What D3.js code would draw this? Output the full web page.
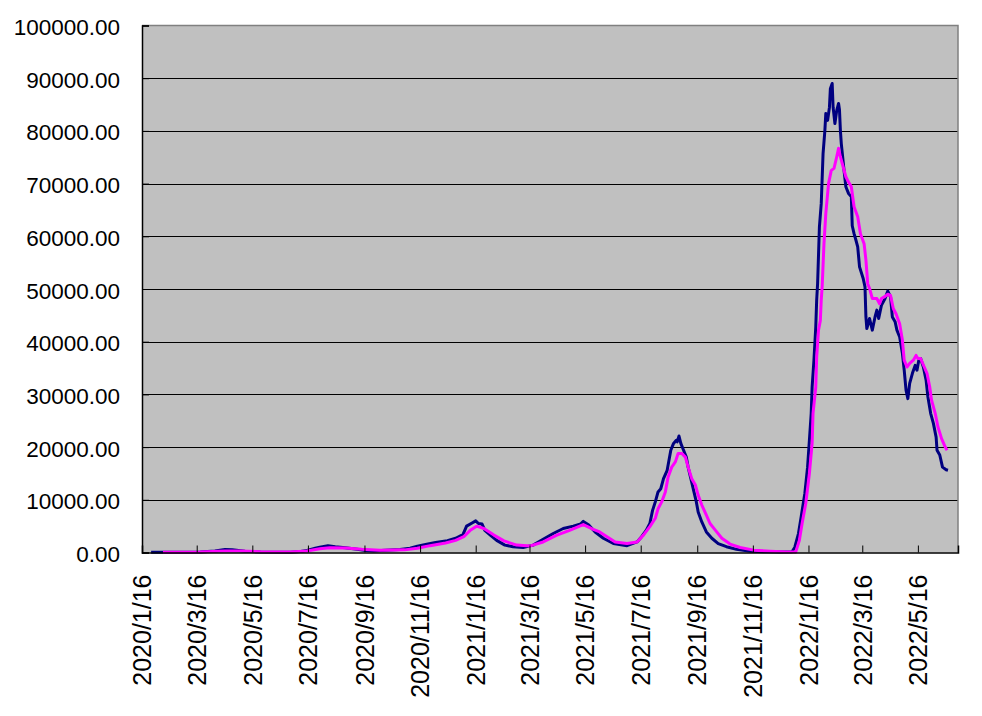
<!DOCTYPE html>
<html>
<head>
<meta charset="utf-8">
<script src="https://cdn.jsdelivr.net/npm/d3@7"></script>
<style>
  html, body { margin: 0; padding: 0; background: #fff; }
  svg { display: block; }
  text { font-family: "Liberation Sans", Arial, sans-serif; fill: #000; }
</style>
</head>
<body>
<div id="chart"></div>
<script>
// x axis labels (every 2 months) and y axis ticks
const tickLabels = ["2020/1/16", "2020/3/16", "2020/5/16", "2020/7/16", "2020/9/16", "2020/11/16",
  "2021/1/16", "2021/3/16", "2021/5/16", "2021/7/16", "2021/9/16", "2021/11/16",
  "2022/1/16", "2022/3/16", "2022/5/16"];
const yTicks = [0, 10000, 20000, 30000, 40000, 50000, 60000, 70000, 80000, 90000, 100000];
const axisStart = "2020-01-16";
const axisEnd = "2022-06-29";

// navy series
const blueDates = [
  "2020-01-26", "2020-03-20", "2020-04-05", "2020-04-16", "2020-04-24", "2020-05-08", "2020-05-25",
  "2020-06-27", "2020-07-08", "2020-07-15", "2020-07-24", "2020-07-29", "2020-08-07", "2020-08-15",
  "2020-08-26", "2020-09-08", "2020-09-17", "2020-09-26", "2020-10-09", "2020-10-25", "2020-11-05",
  "2020-11-13", "2020-11-22", "2020-12-03", "2020-12-16", "2020-12-25", "2021-01-02", "2021-01-06",
  "2021-01-12", "2021-01-16", "2021-01-19", "2021-01-23", "2021-01-26", "2021-02-01", "2021-02-08",
  "2021-02-17", "2021-02-26", "2021-03-09", "2021-03-20", "2021-03-31", "2021-04-11", "2021-04-22",
  "2021-05-03", "2021-05-11", "2021-05-14", "2021-05-20", "2021-05-27", "2021-06-05", "2021-06-16",
  "2021-07-01", "2021-07-12", "2021-07-17", "2021-07-22", "2021-07-26", "2021-07-29", "2021-08-01",
  "2021-08-04", "2021-08-07", "2021-08-10", "2021-08-14", "2021-08-16", "2021-08-18", "2021-08-21",
  "2021-08-24", "2021-08-25", "2021-08-27", "2021-08-29", "2021-09-01", "2021-09-04", "2021-09-06",
  "2021-09-09", "2021-09-12", "2021-09-15", "2021-09-17", "2021-09-21", "2021-09-26", "2021-10-02",
  "2021-10-09", "2021-10-18", "2021-10-29", "2021-11-13", "2021-12-01", "2021-12-16", "2021-12-29",
  "2022-01-01", "2022-01-05", "2022-01-08", "2022-01-12", "2022-01-15", "2022-01-17", "2022-01-19",
  "2022-01-20", "2022-01-22", "2022-01-24", "2022-01-25", "2022-01-26", "2022-01-28", "2022-01-30",
  "2022-02-01", "2022-02-03", "2022-02-04", "2022-02-06", "2022-02-08", "2022-02-09", "2022-02-11",
  "2022-02-12", "2022-02-14", "2022-02-16", "2022-02-18", "2022-02-19", "2022-02-20", "2022-02-21",
  "2022-02-24", "2022-02-26", "2022-03-01", "2022-03-04", "2022-03-05", "2022-03-07", "2022-03-09",
  "2022-03-11", "2022-03-13", "2022-03-17", "2022-03-19", "2022-03-20", "2022-03-21", "2022-03-24",
  "2022-03-27", "2022-03-30", "2022-04-01", "2022-04-03", "2022-04-06", "2022-04-10", "2022-04-13",
  "2022-04-16", "2022-04-18", "2022-04-21", "2022-04-23", "2022-04-26", "2022-04-29", "2022-05-01",
  "2022-05-03", "2022-05-05", "2022-05-07", "2022-05-10", "2022-05-13", "2022-05-15", "2022-05-17",
  "2022-05-19", "2022-05-22", "2022-05-25", "2022-05-27", "2022-05-30", "2022-06-02", "2022-06-05",
  "2022-06-06", "2022-06-09", "2022-06-12", "2022-06-16", "2022-06-18"
];
const blueValues = [
  50, 100, 300, 550, 500, 250, 100,
  50, 200, 400, 800, 1000, 1300, 1100,
  900, 600, 400, 300, 450, 550, 800,
  1200, 1500, 1900, 2250, 2700, 3400, 5000,
  5600, 6000, 5500, 5400, 4200, 3300, 2300,
  1400, 1100, 950, 1400, 2500, 3600, 4550,
  5000, 5400, 5900, 5200, 3900, 2700, 1700,
  1300, 2000, 3000, 4200, 5500, 8000, 9600,
  11500, 12100, 14000, 15600, 17500, 19400, 20700,
  21300, 21000, 22100, 20700, 19400, 18100, 16200,
  14000, 11800, 9600, 7700, 5800, 3900, 2700,
  1700, 1100, 600, 250, 120, 100, 150,
  1000, 3600, 6800, 11200, 16200, 21300, 26400,
  31400, 36500, 42800, 47900, 51000, 61800, 66200,
  75700, 80100, 83300, 82000, 84500, 88000, 89000,
  84500, 81400, 83900, 85200, 84000, 80100, 77600,
  72500, 69400, 68100, 67500, 62000, 60500, 59300,
  58000, 54200, 52000, 50400, 44700, 42500, 44400,
  42200, 44700, 46000, 44400, 46900, 48200, 49600,
  48500, 44700, 43800, 42200, 40900, 37800, 34600,
  30800, 29200, 32100, 34000, 35500, 34600, 36500,
  36800, 35200, 32700, 29500, 26400, 24500, 21900,
  19400, 18500, 16200, 15700, 15600
];

// magenta series
const pinkDates = [
  "2020-02-08", "2020-03-20", "2020-04-16", "2020-05-03", "2020-05-25", "2020-06-27", "2020-07-15",
  "2020-07-29", "2020-08-09", "2020-08-26", "2020-09-13", "2020-10-03", "2020-10-30", "2020-11-13",
  "2020-11-27", "2020-12-14", "2020-12-25", "2021-01-03", "2021-01-10", "2021-01-17", "2021-01-25",
  "2021-02-05", "2021-02-16", "2021-03-02", "2021-03-17", "2021-03-31", "2021-04-15", "2021-04-29",
  "2021-05-14", "2021-05-25", "2021-06-01", "2021-06-09", "2021-06-18", "2021-07-01", "2021-07-12",
  "2021-07-19", "2021-07-26", "2021-08-01", "2021-08-04", "2021-08-08", "2021-08-12", "2021-08-15",
  "2021-08-19", "2021-08-23", "2021-08-26", "2021-08-30", "2021-09-03", "2021-09-06", "2021-09-10",
  "2021-09-14", "2021-09-17", "2021-09-21", "2021-09-26", "2021-09-30", "2021-10-06", "2021-10-13",
  "2021-10-22", "2021-11-02", "2021-11-17", "2021-12-05", "2021-12-23", "2022-01-02", "2022-01-06",
  "2022-01-09", "2022-01-13", "2022-01-17", "2022-01-20", "2022-01-21", "2022-01-24", "2022-01-25",
  "2022-01-27", "2022-01-29", "2022-01-30", "2022-01-31", "2022-02-02", "2022-02-04", "2022-02-07",
  "2022-02-10", "2022-02-13", "2022-02-16", "2022-02-18", "2022-02-20", "2022-02-23", "2022-02-26",
  "2022-02-28", "2022-03-04", "2022-03-07", "2022-03-11", "2022-03-14", "2022-03-18", "2022-03-20",
  "2022-03-22", "2022-03-24", "2022-03-27", "2022-04-01", "2022-04-04", "2022-04-06", "2022-04-10",
  "2022-04-13", "2022-04-16", "2022-04-19", "2022-04-22", "2022-04-26", "2022-04-29", "2022-05-01",
  "2022-05-04", "2022-05-07", "2022-05-11", "2022-05-14", "2022-05-16", "2022-05-19", "2022-05-23",
  "2022-05-26", "2022-05-29", "2022-05-31", "2022-06-04", "2022-06-07", "2022-06-11", "2022-06-15",
  "2022-06-17"
];
const pinkValues = [
  50, 100, 300, 300, 150, 100, 300,
  700, 900, 850, 600, 450, 500, 800,
  1300, 1800, 2300, 3000, 4200, 5000, 4550,
  3300, 2200, 1400, 1250, 2000, 3300, 4200,
  5300, 4400, 3900, 3000, 2000, 1700, 2000,
  3300, 4900, 6500, 8300, 9600, 11500, 14300,
  16200, 17200, 18800, 18800, 18100, 16200, 14000,
  12800, 10900, 9000, 7100, 5500, 4200, 2700,
  1600, 950, 450, 250, 100, 100, 2300,
  5500, 9300, 15000, 20700, 26400, 31400, 37100,
  42200, 44000, 47900, 50400, 58600, 64300, 70000,
  72500, 72900, 75100, 76700, 75100, 73200, 71300,
  70600, 69400, 65600, 63700, 60500, 58600, 55500,
  51000, 50100, 48200, 48200, 47200, 48200, 48600,
  49000, 48800, 46300, 45300, 43400, 40300, 36500,
  35200, 35900, 36500, 37400, 36800, 36800, 35200,
  34000, 31400, 28900, 26400, 23800, 21600, 20000,
  19400
];

const width = 982, height = 716;
const plot = { left: 142, right: 958, top: 25.5, bottom: 552.5 };

const parseDay = d3.timeParse("%Y-%m-%d");
const parseTick = d3.timeParse("%Y/%m/%d");

const blue = blueDates.map((d, i) => ({ date: parseDay(d), value: blueValues[i] }));
const pink = pinkDates.map((d, i) => ({ date: parseDay(d), value: pinkValues[i] }));

const x = d3.scaleTime()
  .domain([parseDay(axisStart), parseDay(axisEnd)])
  .range([plot.left, plot.right]);
const y = d3.scaleLinear()
  .domain([0, 100000])
  .range([plot.bottom, plot.top]);

const svg = d3.select("#chart").append("svg")
  .attr("width", width)
  .attr("height", height);

// plot background
svg.append("rect")
  .attr("x", plot.left).attr("y", plot.top)
  .attr("width", plot.right - plot.left)
  .attr("height", plot.bottom - plot.top)
  .attr("fill", "#c0c0c0");

// gridlines
svg.append("g")
  .selectAll("line")
  .data(yTicks.filter(v => v > 0 && v < 100000))
  .join("line")
  .attr("x1", plot.left).attr("x2", plot.right)
  .attr("y1", d => Math.round(y(d)) + 0.5)
  .attr("y2", d => Math.round(y(d)) + 0.5)
  .attr("stroke", "#000")
  .attr("stroke-width", 1);

// top and right border (grey)
svg.append("path")
  .attr("d", `M${plot.left},${plot.top}H${plot.right}V${plot.bottom}`)
  .attr("fill", "none")
  .attr("stroke", "#808080")
  .attr("stroke-width", 1.5);

// series lines
const line = d3.line()
  .x(d => x(d.date))
  .y(d => y(d.value));

svg.append("path")
  .datum(blue)
  .attr("d", line)
  .attr("fill", "none")
  .attr("stroke", "#000080")
  .attr("stroke-width", 3)
  .attr("stroke-linejoin", "round");

svg.append("path")
  .datum(pink)
  .attr("d", line)
  .attr("fill", "none")
  .attr("stroke", "#ff00ff")
  .attr("stroke-width", 3)
  .attr("stroke-linejoin", "round");

// y axis (ticks inside)
const yAxis = d3.axisLeft(y)
  .tickValues(yTicks)
  .tickSize(-7)
  .tickPadding(22)
  .tickFormat(d3.format(".2f"));

svg.append("g")
  .attr("transform", `translate(${plot.left},0)`)
  .call(yAxis)
  .call(g => g.select(".domain").attr("stroke", "#000").attr("stroke-width", 1.5))
  .call(g => g.selectAll(".tick line").attr("stroke", "#000"))
  .call(g => g.selectAll(".tick text")
    .attr("font-size", "22.5px")
    .attr("font-family", "'Liberation Sans', Arial, sans-serif")
    .attr("dy", "0.4em"));

// x axis (ticks inside, rotated labels)
const xTickDates = tickLabels.map(parseTick);
const xAxis = d3.axisBottom(x)
  .tickValues(xTickDates)
  .tickSize(-7)
  .tickFormat((d, i) => tickLabels[i]);

svg.append("g")
  .attr("transform", `translate(0,${plot.bottom})`)
  .call(xAxis)
  .call(g => g.select(".domain").attr("stroke", "#000").attr("stroke-width", 1.5))
  .call(g => g.selectAll(".tick line").attr("stroke", "#000"))
  .call(g => g.selectAll(".tick text")
    .attr("font-size", "25px")
    .attr("font-family", "'Liberation Sans', Arial, sans-serif")
    .attr("text-anchor", "end")
    .attr("dy", "0.35em")
    .attr("transform", "translate(0,22) rotate(-90)")
    .attr("x", 0)
    .attr("y", 0));
</script>
</body>
</html>
